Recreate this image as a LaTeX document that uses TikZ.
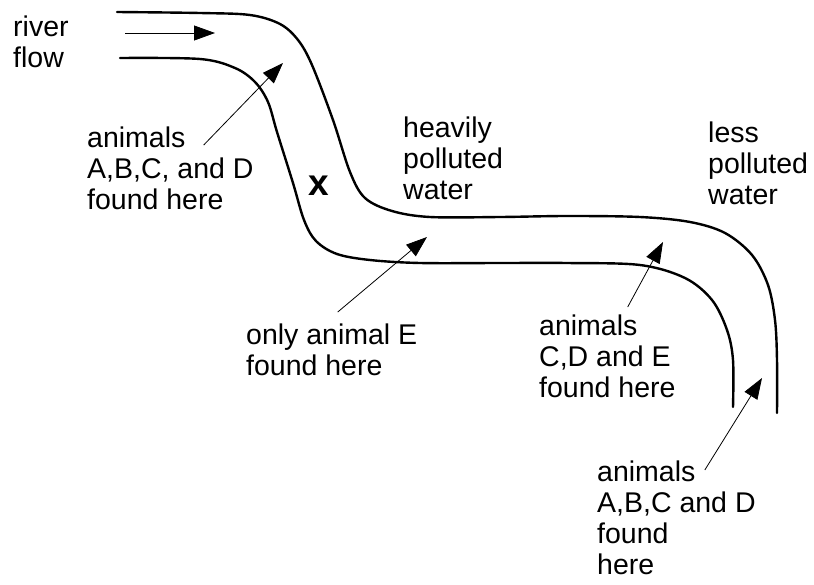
\documentclass[tikz,border=0pt]{standalone}
\usepackage{fontspec}
\setmainfont{Liberation Sans}
\usetikzlibrary{arrows.meta}
\tikzset{bank/.style={black,line width=2.4pt,line cap=round,line join=round}}
\tikzset{pointer/.style={black,line width=0.8pt,-{Triangle[length=21pt,width=15pt]}}}
\tikzset{lbl/.style={align=left,inner sep=0pt,anchor=north west,font=\fontsize{28.5}{31}\selectfont}}
\begin{document}
\begin{tikzpicture}[x=1pt,y=-1pt]
            \useasboundingbox (0,0) rectangle (814,584);
            % river banks
            \draw[bank] plot[smooth,tension=0.55] coordinates {(117,12) (200,13) (250,15) (280,24) (298,40) (312,65) (333,120) (350,172) (365,198) (392,211) (430,217) (500,217) (567,216) (640,217) (690,222) (725,233) (752,255) (768,285) (775,320) (777,360) (777,413)};
            \draw[bank] plot[smooth,tension=0.55] coordinates {(120,58) (200,59) (235,68) (255,82) (268,102) (277,132) (293,183) (304,220) (316,241) (337,254) (370,260) (420,263) (500,263) (567,263) (640,265) (685,278) (712,300) (727,330) (733,360) (733,407)};
            \node[lbl] (flow) at (13,16) {river\\flow};
            \coordinate (flowtail) at (125,33);
            \coordinate (flowtip) at (215,33);
            \draw[pointer] (flowtail) -- (flowtip);
            \node[font=\bfseries\fontsize{37}{40}\selectfont,inner sep=0pt] (site) at (319,186) {x};
            \node[lbl] (heavy) at (403,117) {heavily\\polluted\\water};
            \node[lbl] (less) at (708,122) {less\\polluted\\water};
            \node[lbl] (abcd) at (87,127) {animals\\A,B,C, and D\\found here};
            \node[lbl] (onlye) at (246,324) {only animal E\\found here};
            \node[lbl] (cde) at (539,315) {animals\\C,D and E\\found here};
            \node[lbl] (abcdlow) at (597,461) {animals\\A,B,C and D\\found\\here};
            \coordinate (abcdtip) at (283,63);
            \coordinate (onlyetip) at (427,237);
            \coordinate (cdetip) at (663,242);
            \coordinate (abcdlowtip) at (762,378);
            \draw[pointer] ([shift={(-50,18)}]abcd.north east) -- (abcdtip);
            \draw[pointer] ([shift={(6,-12)}]onlye.north) -- (onlyetip);
            \draw[pointer] ([shift={(-48,-8)}]cde.north east) -- (cdetip);
            \draw[pointer] ([shift={(-51,9)}]abcdlow.north east) -- (abcdlowtip);
\end{tikzpicture}
\end{document}
